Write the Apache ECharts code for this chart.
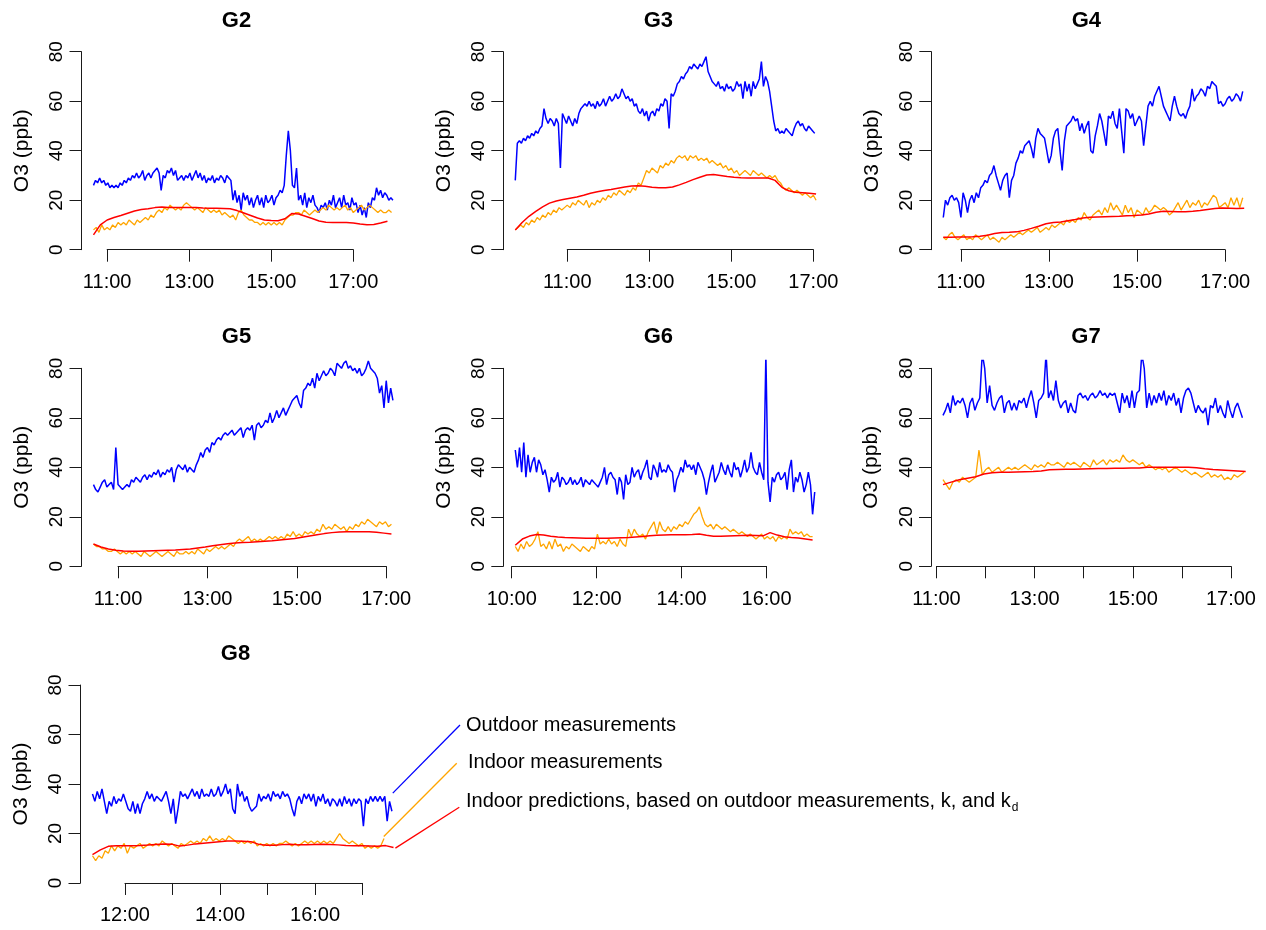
<!DOCTYPE html>
<html>
<head>
<meta charset="utf-8">
<script src="https://cdn.jsdelivr.net/npm/echarts@6/dist/echarts.min.js"></script>
<style>
  html, body { margin: 0; padding: 0; background: #ffffff; }
  #chart { width: 1266px; height: 930px; }
</style>
</head>
<body>
<div id="chart"></div>
<script>
// ---- Data: ozone (ppb) at seven sites, sampled from the series start time ----
const panelNames = ['G2', 'G3', 'G4', 'G5', 'G6', 'G7', 'G8'];
const seriesStart = ['10:40', '09:44', '10:36', '10:27', '10:05', '11:08', '11:19'];
const outdoorStepMin = 3;
const indoorStepMin = 4;
const predictedStepMin = 10;

const seriesNames = [
  'Outdoor measurements',
  'Indoor measurements',
  'Indoor predictions, based on outdoor measurements, k, and k'
];

const g2Outdoor = [
  26, 28, 27, 29, 27, 28, 26, 27, 25, 26,
  25, 26, 25, 27, 26, 28, 27, 29, 28, 30,
  29, 31, 29, 30, 32, 28, 30, 31, 29, 31,
  32, 33, 31, 24, 30, 29, 32, 31, 33, 30,
  32, 28, 29, 30, 28, 30, 29, 31, 28, 30,
  32, 29, 31, 28, 30, 27, 29, 28, 30, 27,
  29, 28, 30, 29, 27, 30, 29, 28, 20, 24,
  19, 22, 16, 23, 20, 22, 18, 21, 17, 20,
  22, 18, 21, 17, 22, 19, 20, 22, 18, 21,
  22, 24, 23, 26, 38, 48, 40, 26, 25, 33,
  20, 22, 18, 23, 17, 21, 19, 22, 18, 17,
  15, 18, 17, 19, 16, 20, 18, 22, 17, 19,
  21, 17, 22, 18, 19, 16, 21, 18, 19, 15,
  18, 14, 17, 13, 19, 17, 21, 20, 25, 22,
  24, 21, 23, 22, 20, 21, 20
];
const g2Indoor = [
  8, 9, 7, 10, 8, 9, 8, 10, 9, 11, 10, 11, 10, 12, 11,
  10, 12, 11, 12, 13, 12, 14, 13, 15, 16, 15, 17, 16, 18, 17,
  16, 17, 16, 18, 19, 18, 17, 16, 17, 16, 15, 17, 16, 15, 16,
  15, 16, 14, 15, 14, 13, 14, 12, 15, 16, 14, 13, 12, 12, 11,
  11, 10, 11, 10, 11, 10, 11, 10, 11, 10, 12, 13, 14, 14, 15,
  15, 14, 16, 15, 14, 15, 16, 15, 16, 17, 16, 18, 17, 16, 17,
  16, 17, 18, 16, 17, 15, 16, 17, 18, 16, 17, 18, 17, 16, 15,
  16, 15, 15, 16, 15
];
const g2Predicted = [
  6, 10, 12, 13, 13.8, 14.7, 15.6, 16.2, 16.5, 17,
  17.2, 17, 17, 17, 17, 17, 16.8, 16.7, 16.7, 16.6,
  16.5, 15.8, 14.8, 13.8, 12.8, 12, 11.8, 11.7, 12.5, 14.6,
  14.4, 13.5, 12.6, 11.6, 11.1, 11, 11, 11, 10.8, 10.4,
  10.1, 10.2, 10.8, 11.5
];

const g3Outdoor = [
  28, 43, 44, 43, 45, 44, 46, 45, 47, 46,
  48, 47, 49, 50, 57, 53, 51, 53, 52, 50,
  53, 51, 33, 55, 53, 51, 54, 52, 50, 53,
  51, 55, 57, 58, 59, 58, 60, 58, 59, 57,
  60, 58, 59, 61, 58, 60, 62, 60, 61, 63,
  61, 62, 65, 63, 61, 62, 60, 61, 58, 59,
  56, 55, 57, 54, 56, 52, 55, 56, 54, 57,
  56, 59, 58, 61, 60, 49, 63, 62, 64, 67,
  68, 70, 69, 71, 72, 74, 73, 75, 74, 73,
  75, 74, 76, 78, 72, 70, 68, 67, 66, 68,
  65, 66, 64, 67, 65, 66, 64, 65, 68, 66,
  67, 61, 68, 64, 67, 62, 68, 65, 67, 69,
  76, 66, 70, 68, 64, 58, 52, 48, 49, 47,
  48, 47, 49, 48, 47, 46, 49, 51, 52, 50,
  51, 49, 48, 50, 49, 48, 47
];
const g3Indoor = [
  8, 9, 10, 9, 11, 10, 12, 11, 13, 12, 14, 13, 15, 14, 16,
  15, 17, 16, 17, 18, 17, 19, 18, 20, 19, 18, 20, 17, 19, 18,
  20, 19, 21, 20, 22, 21, 23, 22, 24, 23, 22, 24, 23, 25, 24,
  27, 26, 29, 32, 31, 33, 32, 31, 34, 33, 35, 34, 36, 35, 37,
  38, 37, 38, 36, 38, 37, 38, 36, 37, 36, 37, 35, 36, 35, 34,
  35, 33, 34, 32, 33, 31, 32, 30, 31, 32, 31, 30, 32, 31, 30,
  31, 30, 29, 30, 29, 30, 28, 27, 25, 24, 25, 24, 23, 24, 23,
  22, 23, 22, 21, 22, 20
];
const g3Predicted = [
  8, 11, 13.5, 15.5, 17.3, 18.8, 19.7, 20.3, 20.8, 21.3,
  22, 22.8, 23.4, 23.9, 24.3, 24.8, 25.3, 25.7, 25.8, 25.6,
  25.2, 25, 25, 25.3, 26.2, 27.2, 28.3, 29.3, 30.2, 30.4,
  30, 29.6, 29.3, 29.1, 29, 29, 29, 29, 28, 25.2,
  23.8, 23.2, 23, 22.8, 22.5
];

const g4Outdoor = [
  13, 20, 18, 21, 22, 20, 21, 19, 13, 23,
  20, 15, 20, 22, 19, 23, 21, 25, 26, 28,
  27, 30, 31, 34, 30, 27, 24, 28, 30, 31,
  21, 28, 30, 35, 37, 40, 39, 42, 43, 44,
  41, 37, 45, 49, 47, 46, 45, 40, 35, 38,
  45, 48, 49, 40, 32, 44, 50, 51, 52, 54,
  52, 53, 48, 51, 47, 50, 52, 40, 39, 46,
  50, 55, 52, 47, 42, 54, 53, 56, 51, 49,
  57, 48, 39, 57, 56, 53, 55, 50, 52, 54,
  52, 42, 50, 58, 60, 58, 62, 64, 66, 62,
  58, 56, 54, 52, 58, 62, 58, 55, 54, 55,
  53, 56, 58, 65, 60, 62, 63, 65, 64, 62,
  66, 65, 68, 67, 66, 59, 60, 58, 59, 61,
  62, 60, 61, 63, 62, 60, 64
];
const g4Indoor = [
  5, 4, 6, 7, 5, 4, 5, 6, 4, 5, 4, 6, 5, 4, 5,
  6, 4, 5, 4, 3, 5, 4, 5, 6, 5, 6, 7, 6, 7, 8,
  7, 8, 9, 7, 8, 9, 8, 10, 9, 10, 11, 10, 12, 11, 12,
  11, 13, 12, 15, 13, 12, 14, 15, 16, 14, 17, 15, 19, 16, 18,
  16, 14, 18, 15, 17, 13, 16, 15, 14, 17, 15, 16, 18, 17, 16,
  17, 16, 14, 15, 17, 19, 16, 18, 20, 17, 19, 18, 20, 17, 19,
  18, 20, 22, 21, 17, 18, 19, 17, 21, 18, 21, 17, 21
];
const g4Predicted = [
  5, 5, 5.1, 5.1, 5.2, 5.4, 5.8, 6.5, 6.9, 7,
  7.2, 7.8, 8.6, 9.5, 10.5, 11, 11.2, 11.7, 12.2, 12.8,
  13.1, 13.2, 13.3, 13.4, 13.5, 13.7, 13.8, 14, 14.4, 15.1,
  15.5, 15.4, 15.3, 15.3, 15.5, 15.8, 16.2, 16.6, 16.8, 16.7,
  16.6, 16.7
];

const g5Outdoor = [
  33, 31, 30, 32, 34, 35, 32, 33, 34, 31,
  48, 33, 32, 31, 32, 33, 32, 35, 34, 36,
  35, 34, 36, 37, 35, 37, 36, 38, 37, 39,
  36, 38, 37, 39, 38, 40, 34, 39, 41, 40,
  39, 41, 38, 40, 39, 38, 41, 43, 46, 44,
  47, 48, 46, 50, 49, 51, 52, 51, 53, 54,
  53, 54, 55, 53, 54, 55, 56, 52, 55, 56,
  55, 57, 51, 57, 58, 56, 57, 59, 58, 62,
  58, 60, 63, 60, 62, 64, 61, 63, 65, 67,
  68, 69, 66, 64, 71, 72, 74, 73, 76, 72,
  78, 75, 77, 79, 77, 78, 80, 79, 77, 82,
  81, 80, 82, 83, 80, 81, 79, 80, 78, 80,
  77, 78, 80, 83, 80, 79, 78, 76, 70, 73,
  64, 75, 66, 72, 67
];
const g5Indoor = [
  9, 8, 8, 7, 7, 6, 6, 7, 6, 5, 6, 5, 6, 5, 6,
  5, 4, 6, 5, 4, 5, 6, 5, 4, 5, 6, 5, 4, 6, 5,
  5, 6, 5, 6, 5, 7, 6, 5, 7, 6, 7, 8, 7, 8, 7,
  8, 9, 8, 10, 11, 10, 11, 12, 10, 11, 10, 11, 10, 11, 12,
  11, 12, 11, 12, 11, 13, 12, 14, 12, 13, 12, 14, 13, 14, 13,
  15, 14, 17, 15, 16, 15, 17, 16, 15, 16, 14, 16, 15, 17, 16,
  18, 17, 19, 18, 17, 16, 18, 17, 18, 16, 17
];
const g5Predicted = [
  9, 7.8, 7, 6.5, 6.2, 6.1, 6.1, 6.2, 6.3, 6.4,
  6.5, 6.6, 6.8, 7, 7.4, 7.8, 8.3, 8.7, 9.1, 9.4,
  9.6, 9.7, 9.9, 10.1, 10.3, 10.6, 10.9, 11.2, 11.7, 12.2,
  12.7, 13.2, 13.6, 13.9, 14, 14, 14, 14, 13.8, 13.4,
  13
];

const g6Outdoor = [
  47, 40, 48, 38, 50, 36, 45, 38, 42, 44,
  38, 43, 41, 37, 39, 35, 30, 36, 34, 35,
  38, 32, 36, 35, 33, 34, 36, 33, 35, 33,
  34, 36, 32, 35, 34, 33, 35, 34, 33, 32,
  34, 36, 40, 33, 37, 38, 36, 35, 29, 36,
  34, 27, 37, 33, 34, 40, 36, 38, 39, 35,
  38, 40, 43, 36, 35, 41, 39, 36, 42, 38,
  39, 38, 41, 39, 38, 30, 35, 37, 40, 38,
  43, 40, 41, 39, 41, 37, 42, 40, 38, 35,
  29, 34, 38, 41, 34, 36, 38, 42, 39, 37,
  41, 38, 36, 42, 39, 40, 36, 39, 43, 38,
  40, 46, 40, 38, 37, 42, 38, 35, 86, 34,
  26, 36, 34, 37, 38, 35, 36, 38, 31, 39,
  43, 30, 36, 34, 38, 35, 30, 33, 38, 33,
  21, 30
];
const g6Indoor = [
  8, 6, 9, 7, 10, 8, 9, 11, 14, 8, 9, 7, 10, 7, 11,
  8, 9, 6, 8, 7, 9, 8, 7, 6, 8, 7, 6, 8, 7, 13,
  9, 10, 9, 11, 9, 10, 8, 11, 9, 8, 15, 12, 15, 13, 12,
  13, 11, 14, 16, 18, 13, 18, 15, 14, 16, 14, 16, 15, 17, 16,
  18, 17, 19, 21, 22, 24, 20, 17, 16, 17, 15, 17, 16, 15, 16,
  15, 14, 15, 14, 13, 14, 13, 12, 13, 12, 11, 12, 13, 11, 12,
  11, 12, 10, 12, 11, 12, 11, 15, 13, 14, 13, 14, 12, 13, 12,
  12
];
const g6Predicted = [
  8.5, 11, 12.2, 12.8, 12.6, 12.1, 11.8, 11.6, 11.5, 11.4,
  11.3, 11.3, 11.3, 11.3, 11.4, 11.5, 11.6, 11.8, 12, 12.3,
  12.5, 12.6, 12.7, 12.7, 12.7, 12.8, 13, 12.5, 12.1, 12.1,
  12.2, 12.3, 12.4, 12.5, 12.4, 12.3, 13.6, 12.6, 11.9, 11.6,
  11.4, 11, 10.6
];

const g7Outdoor = [
  61, 63, 66, 62, 69, 65, 67, 66, 68, 65,
  60, 66, 68, 63, 66, 68, 86, 80, 66, 73,
  65, 63, 66, 68, 69, 62, 66, 67, 63, 66,
  63, 67, 66, 68, 64, 68, 71, 66, 60, 67,
  68, 70, 86, 68, 71, 67, 75, 67, 64, 66,
  67, 62, 66, 63, 62, 69, 70, 68, 69, 67,
  69, 70, 68, 69, 71, 69, 70, 68, 70, 69,
  70, 66, 62, 70, 66, 69, 64, 71, 64, 70,
  71, 86, 80, 64, 70, 65, 69, 66, 70, 67,
  71, 65, 69, 67, 70, 65, 68, 62, 68, 71,
  72, 70, 66, 62, 65, 63, 62, 64, 57, 65,
  64, 68, 62, 65, 62, 60, 67, 63, 60, 64,
  66, 63, 60
];
const g7Indoor = [
  35, 33, 31, 34, 35, 34, 36, 35, 34, 35, 36, 47, 37, 39, 40,
  38, 39, 40, 38, 39, 40, 39, 40, 39, 40, 41, 40, 39, 41, 40,
  41, 40, 42, 41, 41, 42, 41, 40, 42, 41, 42, 41, 40, 42, 41,
  40, 43, 41, 42, 43, 41, 43, 42, 43, 42, 45, 43, 42, 43, 42,
  41, 42, 40, 41, 40, 39, 40, 39, 40, 38, 39, 40, 39, 38, 39,
  38, 37, 38, 37, 36, 37, 38, 36, 37, 36, 37, 35, 36, 35, 37,
  36, 37, 38
];
const g7Predicted = [
  33, 34, 35, 35.6, 36.2, 37.3, 37.8, 38, 38, 38.1,
  38.2, 38.3, 38.5, 39, 39.1, 39.2, 39.2, 39.3, 39.4, 39.5,
  39.5, 39.6, 39.6, 39.7, 39.7, 40, 40, 40, 40, 40,
  40, 39.8, 39.4, 39.1, 38.9, 38.7, 38.5, 38.3
];

const g8Outdoor = [
  36, 33, 37, 34, 38, 33, 28, 33, 31, 35,
  32, 34, 33, 36, 33, 30, 29, 33, 28, 32,
  28, 32, 34, 37, 34, 36, 33, 35, 34, 33,
  35, 37, 33, 28, 34, 24, 30, 37, 35, 36,
  34, 36, 38, 35, 37, 34, 38, 35, 36, 35,
  38, 35, 36, 39, 35, 37, 40, 36, 38, 30,
  28, 40, 35, 37, 33, 35, 31, 29, 30, 31,
  36, 33, 35, 34, 36, 33, 37, 35, 36, 34,
  37, 35, 36, 34, 30, 27, 33, 35, 32, 36,
  34, 36, 33, 36, 31, 35, 33, 36, 32, 34,
  31, 34, 33, 31, 34, 31, 35, 32, 34, 31,
  34, 32, 34, 33, 23, 34, 32, 35, 33, 35,
  33, 35, 33, 35, 25, 33, 29
];
const g8Indoor = [
  11, 9, 11, 10, 13, 12, 15, 13, 15, 14, 16, 12, 15, 14, 15,
  16, 14, 15, 16, 15, 16, 15, 17, 16, 15, 16, 15, 14, 16, 15,
  16, 17, 16, 17, 16, 18, 17, 19, 17, 18, 17, 18, 17, 19, 18,
  17, 16, 17, 16, 17, 16, 17, 15, 16, 15, 16, 15, 16, 15, 16,
  16, 17, 16, 15, 16, 15, 16, 17, 16, 17, 16, 17, 16, 17, 16,
  17, 16, 18, 20, 18, 17, 16, 17, 16, 15, 16, 14, 15, 14, 15,
  14, 15, 18
];
const g8Predicted = [
  11.5, 13.4, 14.8, 15, 15, 15, 15.1, 15.3, 15.6, 15.8,
  15.7, 14.9, 15.3, 15.8, 16.1, 16.4, 16.7, 17, 17, 16.9,
  16.7, 15.6, 15.2, 15.2, 15.5, 15.7, 15.4, 15.5, 15.6, 15.7,
  15.6, 15.4, 15.1, 15, 15, 14.9, 14.8, 15.1, 14.3
];

// axis ticks (hours of day) and which of them carry a label
const xTickHours = [
  [11, 13, 15, 17], [11, 13, 15, 17], [11, 13, 15, 17], [11, 13, 15, 17],
  [10, 12, 14, 16], [11, 12, 13, 14, 15, 16, 17], [12, 13, 14, 15, 16, 17]
];
const xLabelHours = [
  [11, 13, 15, 17], [11, 13, 15, 17], [11, 13, 15, 17], [11, 13, 15, 17],
  [10, 12, 14, 16], [11, 13, 15, 17], [12, 14, 16]
];
const yTicks = [0, 20, 40, 60, 80];

// points (hour, ppb) on the G8 panel where the legend leader lines begin
const legendAnchors = [[17.635, 36.3], [17.445, 18.8], [17.69, 14.1]];

// ---- Layout ----
const FONT = '"Liberation Sans", Arial, Helvetica, sans-serif';
const colors = ['#0000ff', '#ffa500', '#ff0000'];
const lineWidths = [1.5, 1.3, 1.5];
const plotW = 323.4, plotH = 213.8;
const plotOrigin = [
  [81.5, 43.8], [503.3, 43.8], [931.3, 43.8],
  [81.5, 360.4], [503.3, 360.4], [931, 360.4],
  [80.5, 677.1]
];
const yMin = -3.2, yMax = 83.2;
const legendText = [
  { x: 466, y: 725, end: [460, 725] },
  { x: 468, y: 762, end: [456.7, 763.3] },
  { x: 466, y: 801, end: [459.3, 807.3] }
];

const outdoor = [g2Outdoor, g3Outdoor, g4Outdoor, g5Outdoor, g6Outdoor, g7Outdoor, g8Outdoor];
const indoor = [g2Indoor, g3Indoor, g4Indoor, g5Indoor, g6Indoor, g7Indoor, g8Indoor];
const predicted = [g2Predicted, g3Predicted, g4Predicted, g5Predicted, g6Predicted, g7Predicted, g8Predicted];

function toHours(s) { const [h, m] = s.split(':').map(Number); return h + m / 60; }
function timed(values, start, stepMin) {
  const t0 = toHours(start);
  return values.map((v, i) => [t0 + i * stepMin / 60, v]);
}
function hourLabel(v) { return String(Math.round(v)).padStart(2, '0') + ':00'; }

const chart = echarts.init(document.getElementById('chart'), null, { renderer: 'canvas' });

const dataGrids = [], dataX = [], dataY = [];
const frameGrids = [], frameX = [], frameY = [];
const series = [], graphics = [];
const nPanels = panelNames.length;

panelNames.forEach((name, p) => {
  const [L, T] = plotOrigin[p];
  const t0 = toHours(seriesStart[p]);
  const t1 = t0 + (outdoor[p].length - 1) * outdoorStepMin / 60;
  const pad = 0.04 * (t1 - t0);
  const xMin = t0 - pad, xMax = t1 + pad;

  // plotting region holding the traces
  dataGrids.push({ left: L, top: T, width: plotW, height: plotH });
  dataX.push({ type: 'value', gridIndex: p, min: xMin, max: xMax, show: false });
  dataY.push({ type: 'value', gridIndex: p, min: yMin, max: yMax, show: false });

  const sources = [[outdoor, outdoorStepMin], [indoor, indoorStepMin], [predicted, predictedStepMin]];
  sources.forEach(([src, step], k) => {
    series.push({
      type: 'line', name: seriesNames[k], xAxisIndex: p, yAxisIndex: p,
      data: timed(src[p], seriesStart[p], step),
      symbol: 'none', showSymbol: false, clip: true, silent: true,
      lineStyle: { color: colors[k], width: lineWidths[k] },
      itemStyle: { color: colors[k] }, z: 2 + k
    });
  });

  // axes spanning only the first to last tick, set off from the plotting region
  const ticks = xTickHours[p], labels = xLabelHours[p];
  const px = v => L + (v - xMin) / (xMax - xMin) * plotW;
  const py = v => T + (yMax - v) / (yMax - yMin) * plotH;
  const fL = px(ticks[0]), fR = px(ticks[ticks.length - 1]);
  const fT = py(yTicks[yTicks.length - 1]), fB = py(yTicks[0]);
  frameGrids.push({ left: fL, top: fT, width: fR - fL, height: fB - fT });

  const axisLine = { show: true, lineStyle: { color: '#1a1a1a', width: 1 } };
  const axisTick = { show: true, inside: false, length: 12, lineStyle: { color: '#1a1a1a', width: 1 } };
  frameX.push({
    type: 'value', gridIndex: nPanels + p,
    min: ticks[0], max: ticks[ticks.length - 1], interval: ticks[1] - ticks[0],
    position: 'bottom', offset: (T + plotH) - fB,
    axisLine, axisTick, splitLine: { show: false },
    axisLabel: {
      margin: 15, fontSize: 20, color: '#000', fontFamily: FONT,
      formatter: v => labels.includes(Math.round(v)) ? hourLabel(v) : ''
    }
  });
  frameY.push({
    type: 'value', gridIndex: nPanels + p,
    min: yTicks[0], max: yTicks[yTicks.length - 1], interval: yTicks[1] - yTicks[0],
    position: 'left', offset: fL - L,
    axisLine, axisTick, splitLine: { show: false },
    axisLabel: { rotate: 90, margin: 15, fontSize: 19, color: '#000', fontFamily: FONT },
    name: 'O3 (ppb)', nameLocation: 'middle', nameRotate: 90, nameGap: 49,
    nameTextStyle: { fontSize: 21, color: '#000', fontFamily: FONT }
  });

  graphics.push({
    type: 'text', x: L + 155, y: T - 23.2, silent: true,
    style: {
      text: name, font: 'bold 22px ' + FONT, fill: '#000',
      align: 'center', verticalAlign: 'middle', textAlign: 'center', textVerticalAlign: 'middle'
    }
  });
});

chart.setOption({
  animation: false,
  backgroundColor: '#ffffff',
  grid: dataGrids.concat(frameGrids),
  xAxis: dataX.concat(frameX),
  yAxis: dataY.concat(frameY),
  series: series,
  graphic: graphics
});

// legend: text entries with leader lines drawn from the G8 traces
const legendFontSize = 20;
const measure = document.createElement('canvas').getContext('2d');
measure.font = legendFontSize + 'px ' + FONT;
const legendGraphics = [];
legendText.forEach((entry, k) => {
  const start = chart.convertToPixel({ gridIndex: nPanels - 1 }, legendAnchors[k]);
  legendGraphics.push({
    type: 'line', silent: true,
    shape: { x1: start[0], y1: start[1], x2: entry.end[0], y2: entry.end[1] },
    style: { stroke: colors[k], lineWidth: 1.3 }
  });
  legendGraphics.push({
    type: 'text', x: entry.x, y: entry.y, silent: true,
    style: {
      text: seriesNames[k], font: legendFontSize + 'px ' + FONT, fill: '#000',
      align: 'left', verticalAlign: 'middle', textAlign: 'left', textVerticalAlign: 'middle'
    }
  });
});
// subscript d on the last k
const last = legendText[2];
const w = measure.measureText(seriesNames[2]).width;
legendGraphics.push({
  type: 'text', x: last.x + w + 1, y: last.y + 7, silent: true,
  style: {
    text: 'd', font: '12px ' + FONT, fill: '#000',
    align: 'left', verticalAlign: 'middle', textAlign: 'left', textVerticalAlign: 'middle'
  }
});

chart.setOption({ graphic: graphics.concat(legendGraphics) });
</script>
</body>
</html>
